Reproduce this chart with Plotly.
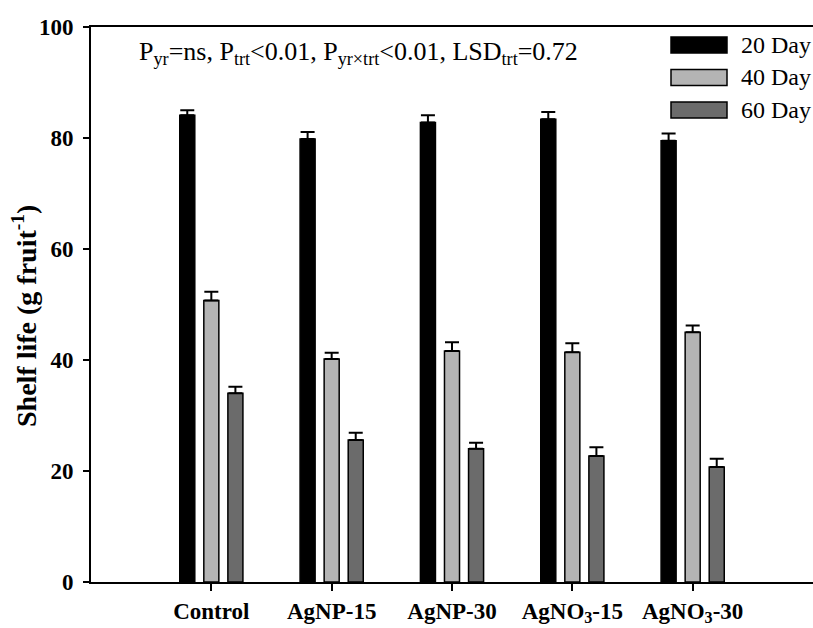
import plotly.graph_objects as go

# Treatments and shelf-life means (g fruit^-1) with standard errors
categories = ["Control", "AgNP-15", "AgNP-30", "AgNO3-15", "AgNO3-30"]
tick_labels = ["Control", "AgNP-15", "AgNP-30", "AgNO<sub>3</sub>-15", "AgNO<sub>3</sub>-30"]

day20 = [84.1, 79.8, 82.8, 83.4, 79.5]
day40 = [50.7, 40.2, 41.6, 41.4, 45.0]
day60 = [34.0, 25.6, 24.0, 22.7, 20.7]

err20 = [0.9, 1.3, 1.3, 1.3, 1.3]
err40 = [1.6, 1.1, 1.6, 1.6, 1.2]
err60 = [1.2, 1.3, 1.1, 1.6, 1.5]

series_names = ["20 Day", "40 Day", "60 Day"]
series_colors = ["#000000", "#b4b4b4", "#6b6b6b"]

y_ticks = [0, 20, 40, 60, 80, 100]

FONT = "Liberation Serif"

fig = go.Figure()
for name, vals, errs, col in zip(series_names, [day20, day40, day60],
                                 [err20, err40, err60], series_colors):
    fig.add_trace(go.Bar(
        x=categories, y=vals, name=name,
        marker=dict(color=col, line=dict(color="black", width=1.5)),
        error_y=dict(type="data", array=errs, arrayminus=[0] * len(errs),
                     symmetric=False, color="black", thickness=2, width=7),
        showlegend=False,
    ))

fig.update_layout(
    width=813, height=628,
    margin=dict(l=91, r=0, t=27, b=46),
    paper_bgcolor="white", plot_bgcolor="white",
    barmode="group", bargap=0.4, bargroupgap=0.375,
    font=dict(family=FONT, color="black"),
)

fig.update_xaxes(
    range=[-1, 5], tickmode="array", tickvals=categories, ticktext=tick_labels,
    ticks="outside", ticklen=7, tickwidth=2, tickcolor="black",
    showline=True, linecolor="black", linewidth=2, mirror=True,
    showgrid=False, zeroline=False, automargin=False,
    tickfont=dict(family=FONT, size=23, color="black", weight="bold"),
    ticklabelstandoff=0,
)
fig.update_yaxes(
    range=[0, 100], tickvals=y_ticks,
    ticks="outside", ticklen=6, tickwidth=2, tickcolor="black",
    showline=True, linecolor="black", linewidth=2,
    showgrid=False, zeroline=False, automargin=False,
    tickfont=dict(family=FONT, size=23, color="black", weight="bold"),
    ticklabelstandoff=5,
)

# Y-axis title
fig.add_annotation(
    text="Shelf life (g fruit<sup>-1</sup>)", textangle=-90,
    xref="paper", yref="paper", x=(24 - 91) / 722, y=1 - (316 - 27) / 555,
    xanchor="center", yanchor="middle", showarrow=False,
    font=dict(family=FONT, size=28, color="black", weight="bold"),
)

# Statistics note
fig.add_annotation(
    text="P<sub>yr</sub>=ns, P<sub>trt</sub>&lt;0.01, P<sub>yr×trt</sub>&lt;0.01, LSD<sub>trt</sub>=0.72",
    xref="paper", yref="paper", x=(137 - 91) / 722, y=1 - (53 - 27) / 555,
    xanchor="left", yanchor="middle", showarrow=False,
    font=dict(family=FONT, size=26, color="black"),
)

# Legend drawn with wide swatches
for i, (name, col) in enumerate(zip(series_names, series_colors)):
    yc = 1 - (45 + 32.5 * i - 27) / 555
    fig.add_shape(
        type="rect", xref="paper", yref="paper",
        x0=(671 - 91) / 722, x1=(727 - 91) / 722,
        y0=yc - 8 / 555, y1=yc + 8 / 555,
        fillcolor=col, line=dict(color="black", width=1.5),
    )
    fig.add_annotation(
        text=name, xref="paper", yref="paper",
        x=(739 - 91) / 722, y=yc, xanchor="left", yanchor="middle",
        showarrow=False, font=dict(family=FONT, size=24, color="black"),
    )

fig.write_html("out.html")
